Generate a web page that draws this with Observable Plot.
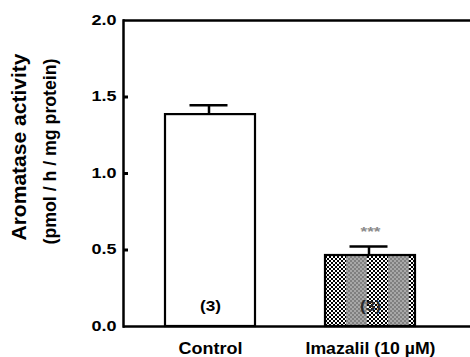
<!DOCTYPE html>
<html><head><meta charset="utf-8">
<script src="https://cdn.jsdelivr.net/npm/d3@7"></script>
<script src="https://cdn.jsdelivr.net/npm/@observablehq/plot@0.6"></script>
<style>
body{margin:0;background:#fff;}
svg{display:block;}
</style>
</head><body><div id="chart"></div>
<script>
const groups = ["Control", "Imazalil (10 µM)"];
const values = [1.385, 0.464];
const errors = [0.061, 0.059];
const nLabels = ["(3)", "(3)"];
const significance = ["", "***"];
const yTicks = [0, 0.5, 1.0, 1.5, 2.0];
const yInnerTicks = [0.5, 1.0, 1.5];
const yLabel1 = "Aromatase activity";
const yLabel2 = "(pmol / h / mg protein)";

const data = groups.map((g, i) => ({group: g, value: values[i], top: values[i] + errors[i], n: nLabels[i], sig: significance[i]}));
const font = '"Liberation Sans", Arial, Helvetica, sans-serif';

const plot = Plot.plot({
  width: 470, height: 357,
  marginLeft: 123, marginRight: 0, marginTop: 20, marginBottom: 31,
  style: {fontFamily: font, background: "white", color: "black"},
  x: {domain: groups, paddingInner: 0.436, paddingOuter: 0.299, align: 0.4375, label: null},
  y: {domain: [0, 2], label: null},
  marks: [
    Plot.barY(data.filter((d, i) => i === 0), {x: "group", y: "value", fill: "white", stroke: "black", strokeWidth: 2.2}),
    Plot.barY(data.filter((d, i) => i === 1), {x: "group", y: "value", fill: "url(#checker)", stroke: "black", strokeWidth: 2.2}),
    Plot.ruleX(data, {x: "group", y1: "value", y2: "top", strokeWidth: 2.5, dx: -1.5}),
    Plot.tickY(data, {x: "group", y: "top", strokeWidth: 2.3, insetLeft: 26, insetRight: 26, dx: -1.5}),
    Plot.text(data.filter((d, i) => i === 0), {x: "group", frameAnchor: "bottom", lineAnchor: "middle", dy: -20, text: "n", fontSize: 15, fontWeight: "bold", fill: "black"}),
    Plot.text(data.filter((d, i) => i === 1), {x: "group", frameAnchor: "bottom", lineAnchor: "middle", dy: -20, text: "n", fontSize: 15, fontWeight: "bold", fill: "#2a2a2a"}),
    Plot.text(data, {x: "group", y: "top", text: "sig", dy: -14, fontSize: 12, fontWeight: "bold", fill: "#8a8a8a"}),
    Plot.ruleY([0, 2], {strokeWidth: 2.5}),
    Plot.frame({anchor: "left", strokeWidth: 2.5}),
    Plot.axisY(yInnerTicks, {tickSize: 5, dx: 5, strokeWidth: 3, tickFormat: () => "", label: null}),
    Plot.axisY(yTicks, {tickSize: 0, tickPadding: 7, tickFormat: d3.format(".1f"), fontSize: 14, fontWeight: "bold", label: null}),
    Plot.axisX({tickSize: 0, tickPadding: 15, fontSize: 17, fontWeight: "bold", label: null}),
    Plot.text([yLabel1], {frameAnchor: "left", textAnchor: "middle", lineAnchor: "middle", rotate: -90, dx: -104, dy: -26.5, fontSize: 20, fontWeight: "bold"}),
    Plot.text([yLabel2], {frameAnchor: "left", textAnchor: "middle", lineAnchor: "middle", rotate: -90, dx: -73, dy: -22, fontSize: 17.5, fontWeight: "bold"})
  ]
});

document.getElementById("chart").appendChild(plot);

// checkered pattern for the treated bar
const svg = d3.select(plot);
const x0 = plot.scale("x").apply(groups[1]);
const defs = svg.insert("defs", ":first-child");
const pat = defs.append("pattern").attr("id", "checker").attr("patternUnits", "userSpaceOnUse")
  .attr("x", x0).attr("y", 0).attr("width", 42).attr("height", 4);
pat.append("rect").attr("width", 42).attr("height", 4).attr("fill", "white");
for (let cx = 0; cx < 42; cx += 2) for (let cy = 0; cy < 4; cy += 2) {
  if (((cx + cy) / 2) % 2 === 0) pat.append("rect").attr("x", cx).attr("y", cy).attr("width", 2).attr("height", 2).attr("fill", "black");
}
pat.append("rect").attr("x", 21).attr("width", 21).attr("height", 4).attr("fill", "#a8a8a8");
for (let cx = 21; cx < 42; cx += 2) for (let cy = 0; cy < 4; cy += 2) {
  if (((cx - 21 + cy) / 2) % 2 === 0) pat.append("rect").attr("x", cx).attr("y", cy).attr("width", 2).attr("height", 2).attr("fill", "#808080");
}

// match text widths
const lengths = {"0.0": 25, "0.5": 25, "1.0": 25, "1.5": 25, "2.0": 25, "(3)": 21, "***": 20,
  "Control": 64, "Imazalil (10 µM)": 130, [yLabel1]: 187, [yLabel2]: 186};
svg.selectAll("text").each(function() {
  const t = this.textContent;
  if (lengths[t]) {
    this.setAttribute("textLength", lengths[t]);
    this.setAttribute("lengthAdjust", "spacingAndGlyphs");
  }
});
</script>
</body></html>
